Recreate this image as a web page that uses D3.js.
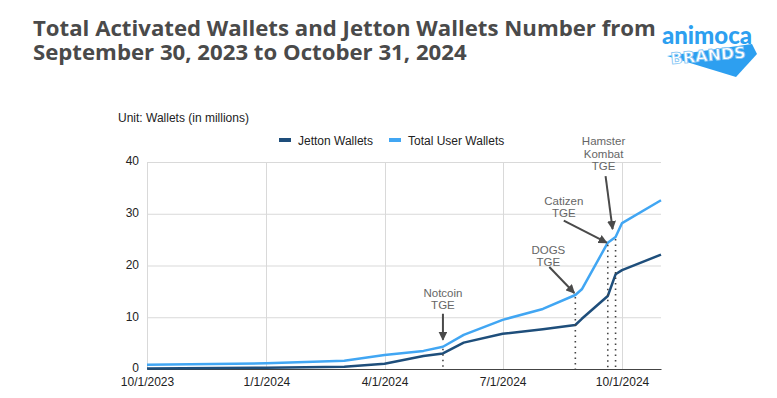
<!DOCTYPE html>
<html>
<head>
<meta charset="utf-8">
<script src="https://cdn.jsdelivr.net/npm/d3@7"></script>
<style>
  html, body { margin: 0; padding: 0; background: #fff; }
  svg { display: block; }
</style>
</head>
<body>
<div id="chart"></div>
<script>
// series values (millions of wallets)
const dates = ["2023-10-01", "2024-01-01", "2024-03-01", "2024-04-01", "2024-05-01", "2024-05-16",
  "2024-06-01", "2024-07-01", "2024-08-01", "2024-08-26", "2024-08-31", "2024-09-20",
  "2024-09-26", "2024-10-01", "2024-10-31"];
const totalUserWallets = [0.8, 1.1, 1.6, 2.7, 3.5, 4.3, 6.6, 9.5, 11.6, 14.3, 15.4, 24.4, 25.5, 28.2, 32.6];
const jettonWallets = [0.1, 0.25, 0.45, 1.0, 2.5, 3.0, 5.1, 6.8, 7.7, 8.5, 9.7, 14.1, 18.3, 19.1, 22.1];

const xTickDates = ["2023-10-01", "2024-01-01", "2024-04-01", "2024-07-01", "2024-10-01"];
const yTicks = [0, 10, 20, 30, 40];

const eventNames = ["Notcoin", "DOGS", "Catizen", "Hamster"];
const eventDates = ["2024-05-16", "2024-08-26", "2024-09-20", "2024-09-26"];
const eventLabels = [["Notcoin", "TGE"], ["DOGS", "TGE"], ["Catizen", "TGE"], ["Hamster", "Kombat", "TGE"]];

const titleLines = ["Total Activated Wallets and Jetton Wallets Number from",
  "September 30, 2023 to October 31, 2024"];

const parse = d3.timeParse("%Y-%m-%d");
const W = 777, H = 398;
const DARK = "#1e4e7b", LIGHT = "#41a6f3";

const svg = d3.select("#chart").append("svg").attr("width", W).attr("height", H);
svg.append("rect").attr("width", W).attr("height", H).attr("fill", "#fff");

// title, one text block with two lines
svg.append("text")
  .attr("font-family", "'Open Sans', sans-serif")
  .attr("font-weight", 700)
  .attr("font-size", "22.2px")
  .attr("fill", "#4a4a4a")
  .selectAll("tspan").data(titleLines).join("tspan")
  .attr("x", 33)
  .attr("y", (d, i) => 36 + i * 24)
  .text(d => d);

// logo
const logo = svg.append("g");
logo.append("polygon")
  .attr("points", "667,56 752,44 757,54 736,77")
  .attr("fill", "#2d9ff0");
logo.append("text")
  .attr("x", 707).attr("y", 44)
  .attr("text-anchor", "middle")
  .attr("font-family", "'Lato', 'Noto Sans', sans-serif")
  .attr("font-weight", 900)
  .attr("font-size", "24px")
  .attr("fill", "#2d9ff0")
  .text("animoca");
logo.append("text")
  .attr("x", 708).attr("y", 61)
  .attr("text-anchor", "middle")
  .attr("transform", "rotate(-5,708,55)")
  .attr("font-family", "'DejaVu Sans', sans-serif")
  .attr("font-weight", 700)
  .attr("font-size", "16px")
  .attr("fill", "#fff")
  .attr("stroke", "#7cc2f4")
  .attr("stroke-width", 0.8)
  .text("BRANDS");

// scales
const x = d3.scaleTime()
  .domain([parse("2023-10-01"), parse("2024-10-31")])
  .range([147, 661]);
const y = d3.scaleLinear().domain([0, 40]).range([369, 162]);

const font = "'Liberation Sans', Arial, sans-serif";

// unit label
svg.append("text")
  .attr("x", 118).attr("y", 122)
  .attr("font-family", font).attr("font-size", "12px").attr("fill", "#222")
  .text("Unit: Wallets (in millions)");

// legend
const legendItems = [
  { name: "Jetton Wallets", color: DARK, x: 279 },
  { name: "Total User Wallets", color: LIGHT, x: 389 }
];
const lg = svg.append("g").selectAll("g").data(legendItems).join("g")
  .attr("transform", d => `translate(${d.x},140)`);
lg.append("rect").attr("x", 0).attr("y", -2).attr("width", 12).attr("height", 4).attr("fill", d => d.color);
lg.append("text").attr("x", 19).attr("y", 4.5)
  .attr("font-family", font).attr("font-size", "12px").attr("fill", "#222")
  .text(d => d.name);

// grid
const grid = svg.append("g");
grid.selectAll("line.h").data(yTicks.filter(d => d > 0)).join("line")
  .attr("class", "h")
  .attr("x1", x.range()[0]).attr("x2", x.range()[1])
  .attr("y1", d => y(d) + 0.5).attr("y2", d => y(d) + 0.5)
  .attr("stroke", "#d9d9d9").attr("stroke-width", 1);
grid.selectAll("line.v").data(xTickDates.map(parse)).join("line")
  .attr("class", "v")
  .attr("x1", d => Math.round(x(d)) + 0.5).attr("x2", d => Math.round(x(d)) + 0.5)
  .attr("y1", y(40)).attr("y2", y(0))
  .attr("stroke", "#d9d9d9").attr("stroke-width", 1);

// y axis labels
const yAxis = d3.axisLeft(y).tickValues(yTicks).tickSize(0).tickPadding(8);
svg.append("g").attr("transform", `translate(${x.range()[0]},0)`).call(yAxis)
  .call(g => g.select(".domain").remove())
  .call(g => g.selectAll("text").attr("font-family", font).attr("font-size", "12px")
    .attr("fill", "#222").attr("dy", "0.24em"));

// x axis
const xAxis = d3.axisBottom(x).tickValues(xTickDates.map(parse))
  .tickFormat(d3.timeFormat("%-m/%-d/%Y")).tickSize(0).tickPadding(8);
svg.append("g").attr("transform", `translate(0,${y(0)})`).call(xAxis)
  .call(g => g.select(".domain").attr("stroke", "#444").attr("stroke-width", 1.2))
  .call(g => g.selectAll("text").attr("font-family", font).attr("font-size", "12px").attr("fill", "#222"));

// series
const series = [
  { values: jettonWallets, color: DARK },
  { values: totalUserWallets, color: LIGHT }
];
const line = d3.line().x(d => x(d[0])).y(d => y(d[1]));
svg.append("g").selectAll("path").data(series).join("path")
  .attr("d", s => line(dates.map((d, i) => [parse(d), s.values[i]])))
  .attr("fill", "none")
  .attr("stroke", s => s.color)
  .attr("stroke-width", 2.5)
  .attr("stroke-linejoin", "round");

// events: dotted drop lines + callouts
const totalAt = ds => totalUserWallets[dates.indexOf(ds)];
const events = eventNames.map((n, i) => ({
  name: n, date: parse(eventDates[i]), value: totalAt(eventDates[i]), label: eventLabels[i]
}));

svg.append("g").selectAll("line").data(events).join("line")
  .attr("x1", d => x(d.date)).attr("x2", d => x(d.date))
  .attr("y1", d => y(d.value) + 2).attr("y2", y(0))
  .attr("stroke", "#444").attr("stroke-width", 1.6)
  .attr("stroke-dasharray", "1.5,4");

svg.append("defs").append("marker")
  .attr("id", "arrow")
  .attr("viewBox", "0 0 10 10")
  .attr("refX", 9).attr("refY", 5)
  .attr("markerWidth", 4.5).attr("markerHeight", 4.5)
  .attr("markerUnits", "strokeWidth")
  .attr("orient", "auto")
  .append("path").attr("d", "M0,0 L10,5 L0,10 z").attr("fill", "#4a4a4a");

// callout layout: tip offset from the line point, tail offset from tip, text offset from tail
const calloutLayout = {
  Notcoin: { tip: [0, -7], tail: [0, -26], text: [0, -17] },
  DOGS: { tip: [-1, -2], tail: [-25, -26], text: [-1, -13] },
  Catizen: { tip: [-1, 0], tail: [-43, -22], text: [0, -16] },
  Hamster: { tip: [-3, -8], tail: [-7, -53], text: [-2, -18.5] }
};

const callouts = svg.append("g").selectAll("g").data(events).join("g");
callouts.each(function (d) {
  const L = calloutLayout[d.name];
  const tx = x(d.date) + L.tip[0], ty = y(d.value) + L.tip[1];
  const sx = tx + L.tail[0], sy = ty + L.tail[1];
  const g = d3.select(this);
  g.append("line")
    .attr("x1", sx).attr("y1", sy).attr("x2", tx).attr("y2", ty)
    .attr("stroke", "#4a4a4a").attr("stroke-width", 2)
    .attr("marker-end", "url(#arrow)");
  g.append("text")
    .attr("text-anchor", "middle")
    .attr("font-family", font).attr("font-size", "11.5px").attr("fill", "#666")
    .selectAll("tspan").data(d.label).join("tspan")
    .attr("x", sx + L.text[0])
    .attr("y", (t, i) => sy + L.text[1] + (i - (d.label.length - 2)) * 12.5)
    .text(t => t);
});
</script>
</body>
</html>
